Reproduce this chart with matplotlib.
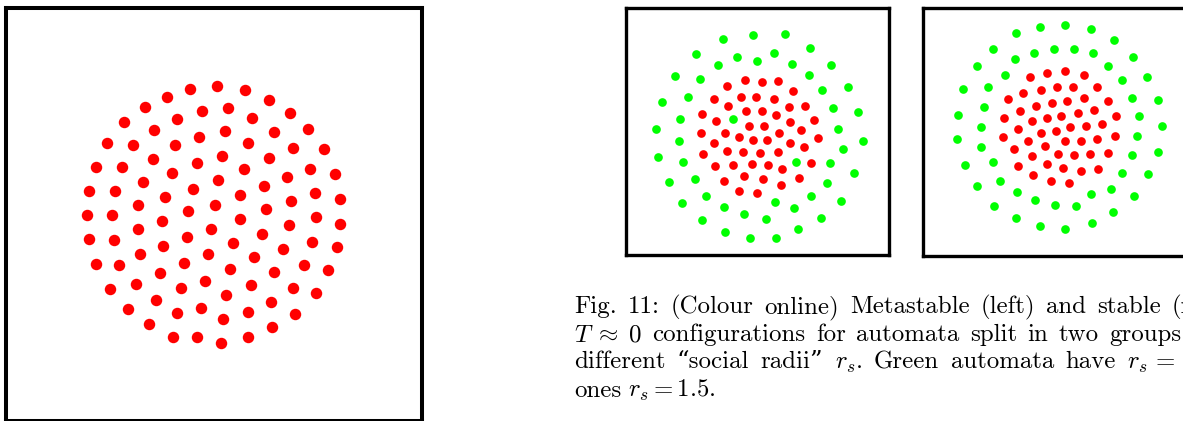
import matplotlib
matplotlib.use("Agg")
import matplotlib.pyplot as plt

plt.rcParams['mathtext.fontset'] = 'cm'

W, H = 1183, 421

# left: T ~ 0 configuration, single group (box coords)
lx = [190, 166.7, 202, 145, 177.3, 124.3, 154.3, 199.3, 106.7, 132.7, 175.3, 152.7, 196.7, 96, 121.7,
      172.3, 142.7, 89.3, 115, 193.3, 164.7, 137.7, 188,
      216.7, 245.3, 269, 228, 251.7, 290, 225, 274, 307.7, 248.3, 293, 324, 222, 268.7, 243.7, 310,
      335.3, 218.3, 287, 264.3, 240.3, 315, 340, 290.7, 215.3, 265.7,
      86.7, 112, 162.3, 137.7, 89.3, 113.7, 187.3, 211, 163.3, 140.3, 95.7, 119.3, 184.3, 208, 160,
      136, 109.7, 181, 205, 155.7, 128.3, 201.5, 177, 149, 173, 197.3,
      240, 315.7, 340, 289.3, 262, 233.3, 283.3, 311.7, 336.7, 254, 230, 274, 304, 327.7, 250.7,
      292.7, 315.7, 226, 271, 247.7, 295, 222.7, 272, 221.3, 247.7]
ly = [89.3, 96.7, 111.3, 107.3, 118.7, 122, 130, 136.7, 143.3, 145, 145.3, 158.7, 162.7, 166.7, 167.3,
      173.3, 181.7, 190.7, 191.3, 188.7, 196.7, 204.7, 211,
      85.7, 90, 99.7, 108, 118.3, 112.7, 131, 131.7, 129, 143, 148.3, 149, 155.7, 158, 168.7, 168.7,
      174, 180, 176.7, 185.7, 195, 193, 199, 201, 204.7, 209,
      214.7, 215, 220.7, 229.3, 239, 240, 236.7, 229.2, 245.7, 254.3, 264, 265.3, 262.7, 254.3, 273,
      283.7, 289, 288.3, 281.2, 299.7, 308.7, 308.3, 313.3, 324.3, 336.7, 337.3,
      219.3, 217.3, 224, 225.3, 234, 243.3, 249.3, 242, 247.3, 257.3, 268.7, 272.3, 265, 270.3, 284.7,
      287.7, 293, 295, 301.7, 311.7, 314, 319.3, 327.3, 342.7, 337.3]

# metastable configuration (two groups)
gx2 = [308, 399, 494, 228, 350, 410, 462, 569, 293, 516, 634, 165, 241, 568, 684, 127, 204, 606, 640, 714,
       180, 338, 108, 178, 655, 730, 115, 189, 668, 528, 630, 146, 225, 702, 622, 258, 186, 573, 465, 664,
       312, 521, 373, 438, 247, 602, 315, 535, 390, 468]
gy2 = [117, 105, 101, 163, 170, 183, 160, 145, 196, 191, 196, 228, 237, 224, 262, 306, 291, 270, 324, 337,
       357, 358, 388, 422, 387, 422, 470, 486, 448, 486, 489, 545, 536, 518, 548, 588, 609, 589, 607, 602,
       621, 623, 641, 656, 661, 654, 695, 687, 713, 715]
rx2 = [374, 427, 475, 321, 519, 281, 362, 407, 461, 323, 507, 555, 246, 378, 425, 467, 581, 289, 388, 432,
       509, 243, 316, 356, 398, 441, 478, 544, 594, 282, 320, 369, 421, 475, 509, 553, 250, 286, 338, 395,
       445, 486, 573, 312, 371, 430, 484, 537, 358, 410]
ry2 = [240, 247, 244, 259, 274, 298, 292, 292, 296, 319, 320, 317, 343, 334, 333, 346, 359, 363, 378, 377,
       367, 398, 399, 410, 420, 420, 398, 391, 413, 428, 452, 457, 458, 456, 430, 441, 463, 498, 494, 492,
       494, 506, 489, 543, 528, 536, 554, 535, 573, 578]

# stable configuration (two groups)
gx3 = [302, 376, 451, 527, 597, 235, 357, 417, 476, 534, 299, 653, 185, 580, 269, 697, 620, 144, 219, 651,
       730, 206, 130, 672, 199, 741, 125, 666, 199, 728, 650, 149, 235, 620, 700, 185, 255, 307, 528, 587,
       658, 360, 420, 482, 238, 595, 302, 375, 451, 530]
gy3 = [99, 80, 74, 86, 120, 146, 158, 146, 148, 160, 176, 170, 198, 198, 226, 232, 241, 267, 261, 293,
       300, 320, 344, 349, 380, 379, 418, 409, 440, 455, 466, 494, 487, 518, 523, 557, 543, 576, 581, 567,
       589, 601, 614, 619, 617, 637, 655, 677, 688, 670]
rx3 = [344, 396, 450, 507, 325, 377, 426, 474, 546, 279, 411, 457, 508, 578, 316, 363, 488, 537, 267, 350,
       397, 439, 603, 309, 466, 513, 560, 264, 340, 379, 423, 450, 497, 545, 599, 297, 390, 351, 428, 477,
       524, 578, 310, 395, 445, 498, 549, 355, 408, 463]
ry3 = [231, 218, 212, 224, 280, 270, 261, 262, 262, 298, 308, 304, 293, 302, 332, 318, 338, 329, 354, 364,
       353, 347, 349, 388, 380, 377, 372, 410, 424, 398, 392, 424, 422, 418, 408, 448, 438, 467, 461, 466,
       462, 459, 497, 492, 503, 513, 507, 526, 544, 549]

RED = '#ff0000'
GREEN = '#00ff00'

fig = plt.figure(figsize=(W / 100, H / 100), dpi=100)


def panel(left, right, top, bottom, xlim, ylim, lw):
    # pixel box -> figure fraction
    ax = fig.add_axes([left / W, 1 - bottom / H, (right - left) / W, (bottom - top) / H])
    ax.set_xlim(*xlim)
    ax.set_ylim(*ylim)
    ax.set_xticks([])
    ax.set_yticks([])
    for s in ax.spines.values():
        s.set_linewidth(lw)
        s.set_color('black')
    return ax


ax1 = panel(6.3, 421.7, 7.5, 420.7, (6.3, 421.7), (420.7, 7.5), 2.9)
ax1.scatter(lx, ly, s=68, color=RED, linewidths=0)

ax2 = panel(625.7, 889, 8.2, 255, (17, 807), (765, 24.6), 2.4)
ax2.scatter(gx2, gy2, s=39, color=GREEN, linewidths=0)
ax2.scatter(rx2, ry2, s=39, color=RED, linewidths=0)

ax3 = panel(922.7, 1186, 8.3, 255.5, (23, 813), (766.5, 25), 2.4)
ax3.scatter(gx3, gy3, s=39, color=GREEN, linewidths=0)
ax3.scatter(rx3, ry3, s=39, color=RED, linewidths=0)

# caption, justified word by word
FS = 17.9
FAM = ['cmr10', 'DejaVu Serif']
renderer = fig.canvas.get_renderer()


def place_line(words, x0, yb, x_last=None, gap=6.5):
    texts = [fig.text(0, 0, w, fontsize=FS, family=FAM, va='baseline', ha='left') for w in words]
    widths = [t.get_window_extent(renderer).width for t in texts]
    if x_last is not None and len(words) > 1:
        gap = (x_last - x0 - sum(widths[:-1])) / (len(words) - 1)
    x = x0
    for t, w in zip(texts, widths):
        t.set_position((x / W, 1 - yb / H))
        x += w + gap


place_line(["Fig.", "11:", "(Colour", "online)", "Metastable", "(left)", "and", "stable", "(right)"],
           574, 313.3, x_last=1171.7)
place_line([r"$T\;\approx\;0$", "configurations", "for", "automata", "split", "in", "two", "groups"],
           574, 341, x_last=1109.3)
place_line(["different", "\u201csocial", "radii\u201d", "$r_s$.", "Green", "automata", "have",
            r"$r_s\,{=}\,2$"],
           574, 368.3, x_last=1127)
place_line(["ones", "$r_s=1.5$."], 574, 396.7)

fig.savefig("out.png", dpi=100)
